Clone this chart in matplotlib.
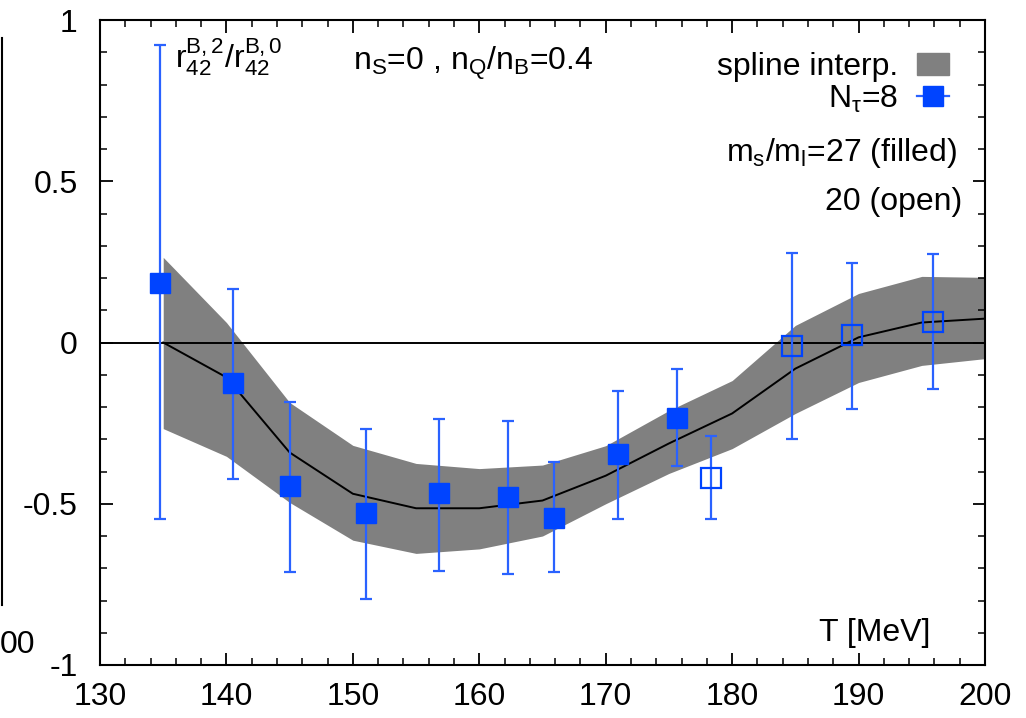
import matplotlib
matplotlib.use("Agg")
import matplotlib.pyplot as plt
from matplotlib.lines import Line2D
from matplotlib.patches import Patch
from matplotlib.ticker import MultipleLocator, FixedLocator, FixedFormatter

plt.rcParams['font.family'] = ['Liberation Sans', 'DejaVu Sans']
plt.rcParams['mathtext.fontset'] = 'custom'
plt.rcParams['mathtext.rm'] = 'Liberation Sans'
plt.rcParams['mathtext.it'] = 'Liberation Sans'
plt.rcParams['mathtext.bf'] = 'Liberation Sans:bold'

# ---- data ----
T_filled = [134.75, 140.5, 145.0, 151.0, 156.8, 162.3, 165.9, 171.0, 175.6]
y_filled = [0.186, -0.127, -0.446, -0.53, -0.468, -0.48, -0.543, -0.347, -0.233]
hi_filled = [0.924, 0.167, -0.183, -0.267, -0.236, -0.242, -0.372, -0.149, -0.081]
lo_filled = [-0.546, -0.422, -0.713, -0.794, -0.71, -0.719, -0.713, -0.546, -0.384]

T_open = [178.3, 184.7, 189.5, 195.9]
y_open = [-0.419, -0.01, 0.022, 0.065]
hi_open = [-0.291, 0.279, 0.248, 0.273]
lo_open = [-0.546, -0.298, -0.205, -0.143]

T_band = [135, 140, 145, 150, 155, 160, 165, 170, 175, 180, 185, 190, 195, 200]
band_mid = [0.0, -0.108, -0.341, -0.469, -0.514, -0.514, -0.49, -0.413, -0.313, -0.22, -0.081, 0.016, 0.062, 0.074]
band_up = [0.264, 0.062, -0.186, -0.319, -0.375, -0.391, -0.38, -0.32, -0.211, -0.118, 0.053, 0.152, 0.205, 0.202]
band_lo = [-0.267, -0.353, -0.496, -0.613, -0.654, -0.64, -0.60, -0.5, -0.406, -0.329, -0.22, -0.124, -0.071, -0.05]

xticks = [130, 140, 150, 160, 170, 180, 190, 200]
yticks = [-1, -0.5, 0, 0.5, 1]
ytick_labels = ['-1', '-0.5', '0', '0.5', '1']

blue = '#0044ff'
ebar_blue = '#2a62ff'
gray = '#808080'
fs = 23

fig = plt.figure(figsize=(10.26, 7.18), dpi=100)
ax = fig.add_axes([100/1026, 1-665/718, 885/1026, 645/718])

ax.fill_between(T_band, band_lo, band_up, color=gray, lw=0, zorder=1)
ax.plot(T_band, band_mid, color='black', lw=1.4, zorder=2)
ax.axhline(0, color='black', lw=1.4, zorder=2)

err_f = [[y - l for y, l in zip(y_filled, lo_filled)], [h - y for y, h in zip(y_filled, hi_filled)]]
err_o = [[y - l for y, l in zip(y_open, lo_open)], [h - y for y, h in zip(y_open, hi_open)]]

ax.errorbar(T_filled, y_filled, yerr=err_f, fmt='s', ms=15, mfc=blue, mec=blue,
            ecolor=ebar_blue, elinewidth=1.6, capsize=4, capthick=1.6, zorder=4)
ax.errorbar(T_open, y_open, yerr=err_o, fmt='s', ms=15, mfc='none', mec=blue, mew=1.6,
            ecolor=ebar_blue, elinewidth=1.6, capsize=4, capthick=1.6, zorder=4)

ax.set_xlim(130, 200)
ax.set_ylim(-1, 1)
ax.xaxis.set_major_locator(FixedLocator(xticks))
ax.xaxis.set_minor_locator(MultipleLocator(2))
ax.yaxis.set_major_locator(FixedLocator(yticks))
ax.yaxis.set_major_formatter(FixedFormatter(ytick_labels))
ax.yaxis.set_minor_locator(MultipleLocator(0.1))
ax.tick_params(which='both', direction='in', top=True, right=True, labelsize=fs)
ax.tick_params(which='major', length=9, width=1.3)
ax.tick_params(which='minor', length=5, width=1.1)
ax.tick_params(axis='y', pad=16)
ax.tick_params(axis='x', pad=12)
for s in ax.spines.values():
    s.set_linewidth(1.5)

# texts
ax.text(0.085, 0.927, r'$\mathregular{r_{42}^{B,2}/r_{42}^{B,0}}$', transform=ax.transAxes,
        fontsize=fs, ha='left', va='baseline')
ax.text(0.286, 0.922, r'$\mathregular{n_S}$=0 , $\mathregular{n_Q}$/$\mathregular{n_B}$=0.4',
        transform=ax.transAxes, fontsize=fs, ha='left', va='baseline')
ax.text(0.968, 0.794, r'$\mathregular{m_s}$/$\mathregular{m_l}$=27 (filled)', transform=ax.transAxes,
        fontsize=fs, ha='right', va='center')
ax.text(0.974, 0.718, '20 (open)', transform=ax.transAxes, fontsize=fs, ha='right', va='center')
ax.text(0.938, 0.05, 'T [MeV]', transform=ax.transAxes, fontsize=fs, ha='right', va='center')

handles = [Patch(facecolor=gray, edgecolor=gray),
           Line2D([], [], color=ebar_blue, lw=1.6, marker='s', ms=15, mfc=blue, mec=blue)]
labels = ['spline interp.', r'N$_\tau$=8']
ax.legend(handles, labels, loc='upper right', bbox_to_anchor=(0.985, 0.985), frameon=False,
          markerfirst=False, fontsize=fs, handlelength=1.0, handletextpad=0.6,
          labelspacing=0.05, borderpad=0.2)

# partial neighbouring panel edge on the far left
fig.add_artist(Line2D([2/1026, 2/1026], [1-38/718, 1-605/718], transform=fig.transFigure,
                      color='black', lw=1.5))
fig.text(0.0, 1-645/718, '00', fontsize=fs, ha='left', va='center')

fig.savefig('out.png', dpi=100)
